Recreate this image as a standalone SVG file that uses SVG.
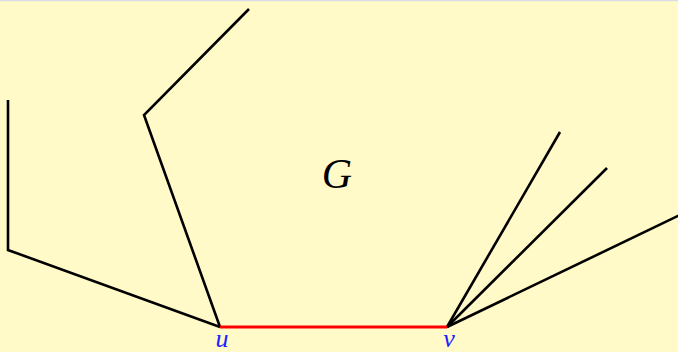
<svg xmlns="http://www.w3.org/2000/svg" width="678" height="352" viewBox="0 0 678 352">
<style>
.e{fill:none;stroke:#000;stroke-width:2.6;stroke-linejoin:miter;stroke-linecap:butt}
.lbl{font-family:"Liberation Serif",serif;font-style:italic;fill:#2020ff;font-size:26px;text-anchor:middle}
</style>
<rect x="0" y="0" width="678" height="352" fill="#fffac8"/>
<line x1="0" y1="0.5" x2="678" y2="0.5" stroke="#dcdce6" stroke-width="1.5"/>
<g id="connectors">
<polyline class="e" points="220,327 8,250 8,100"/>
<polyline class="e" points="220,327 144,115 249,9"/>
<line class="e" x1="447" y1="327" x2="560" y2="132"/>
<line class="e" x1="447" y1="327" x2="607" y2="168"/>
<line class="e" x1="447" y1="327" x2="682" y2="214"/>
<line x1="220" y1="327" x2="447" y2="327" stroke="#ff0000" stroke-width="2.8"/>
</g>
<g id="u"><text class="lbl" x="222" y="346.5">u</text></g>
<g id="v"><text class="lbl" x="449" y="346.5">v</text></g>
<g id="G"><text x="337" y="188" font-family="Liberation Serif,serif" font-style="italic" font-size="42" text-anchor="middle" fill="#000">G</text></g>
</svg>
